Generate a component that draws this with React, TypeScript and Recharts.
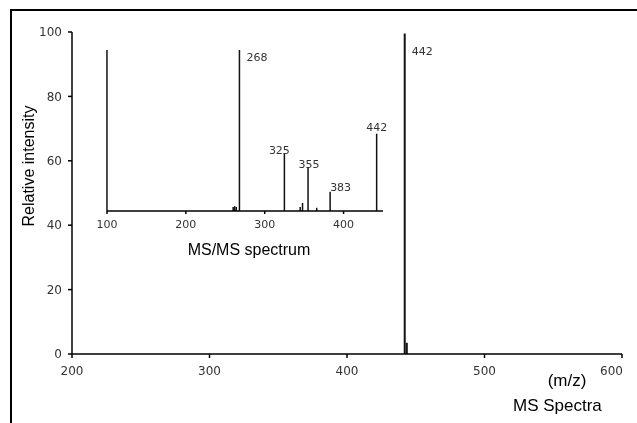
import React from 'react';
import { BarChart, Bar, XAxis, YAxis, LabelList } from 'recharts';

// full MS scan
const msMz = [442, 443.5];
const msIntensity = [99.5, 3.5];
const msLabeled = [442];
const msTicksX = [200, 300, 400, 500, 600];
const msTicksY = [0, 20, 40, 60, 80, 100];

// MS/MS fragments (inset)
const msmsMz = [100, 260, 262, 264, 268, 325, 345, 348, 355, 366, 383, 442];
const msmsIntensity = [100, 2.5, 3, 2.5, 100, 36, 2.5, 5, 27, 2, 12, 48];
const msmsLabeled = [268, 325, 355, 383, 442];
const msmsTicksX = [100, 200, 300, 400];

const msData = msMz.map((mz, i) => ({
  mz,
  intensity: msIntensity[i],
  label: msLabeled.includes(mz) ? String(mz) : '',
}));

const msmsData = msmsMz.map((mz, i) => ({
  mz,
  intensity: msmsIntensity[i],
  label: msmsLabeled.includes(mz) ? String(mz) : '',
}));

// where each peak label sits relative to the top of its stick: [dx, dy, anchor]
const msLabelPlace: Record<string, [number, number, string]> = {
  '442': [7, 21, 'start'],
};
const msmsLabelPlace: Record<string, [number, number, string]> = {
  '268': [7, 11, 'start'],
  '325': [-5, 1, 'middle'],
  '355': [1, 0, 'middle'],
  '383': [0, -1, 'start'],
  '442': [0, -3, 'middle'],
};

const tickFont = { fontFamily: 'DejaVu Sans', fill: '#333' };
const labelFont: React.CSSProperties = {
  position: 'absolute',
  fontFamily: '"Liberation Sans", Arial, sans-serif',
  fontSize: 16,
  lineHeight: 1,
  color: '#000',
  whiteSpace: 'nowrap',
};

const peakLabel = (place: Record<string, [number, number, string]>) => (props: any) => {
  const { x, y, width, value } = props;
  if (!value) return null;
  const [dx, dy, anchor] = place[value] || [0, -3, 'middle'];
  return (
    <text
      x={Number(x) + Number(width) / 2 + dx}
      y={Number(y) + dy}
      textAnchor={anchor as any}
      fontSize={11}
      {...tickFont}
    >
      {value}
    </text>
  );
};

// last tick sits against the right edge, so pin its right end instead of centring
const MsXTick = (props: any) => {
  const { x, y, payload } = props;
  const last = payload.value === msTicksX[msTicksX.length - 1];
  return (
    <text
      x={last ? x + 6 : x}
      y={y}
      dy="0.71em"
      textAnchor={last ? 'end' : 'middle'}
      fontSize={12}
      {...tickFont}
    >
      {payload.value}
    </text>
  );
};

export default function App() {
  return (
    <div style={{ position: 'relative', width: 621, height: 407 }}>
      {/* frame, runs off the page on the right and bottom */}
      <div
        style={{
          position: 'fixed',
          left: 10,
          top: 9,
          width: 700,
          height: 500,
          borderTop: '2px solid #000',
          borderLeft: '2px solid #000',
          pointerEvents: 'none',
        }}
      />

      {/* MS spectrum */}
      <div style={{ position: 'absolute', left: 0, top: 0 }}>
        <BarChart
          width={621}
          height={407}
          data={msData}
          margin={{ top: 24, right: 7, left: 19, bottom: 31 }}
        >
          <XAxis
            type="number"
            dataKey="mz"
            domain={[200, 600]}
            ticks={msTicksX}
            height={30}
            tickSize={4}
            tickMargin={8}
            stroke="#000"
            strokeWidth={1.5}
            tick={<MsXTick />}
          />
          <YAxis
            type="number"
            domain={[0, 100]}
            ticks={msTicksY}
            width={45}
            tickSize={4}
            tickMargin={6}
            stroke="#000"
            strokeWidth={1.5}
            tick={{ ...tickFont, fontSize: 12 }}
          />
          <Bar dataKey="intensity" fill="#111" barSize={2} isAnimationActive={false}>
            <LabelList dataKey="label" content={peakLabel(msLabelPlace)} />
          </Bar>
        </BarChart>
      </div>

      {/* MS/MS inset */}
      <div style={{ position: 'absolute', left: 60, top: 30, width: 340, height: 210 }}>
        <BarChart
          width={340}
          height={210}
          data={msmsData}
          margin={{ top: 12, right: 25, left: 39, bottom: 12 }}
        >
          <XAxis
            type="number"
            dataKey="mz"
            domain={[100, 450]}
            ticks={msmsTicksX}
            height={25}
            tickSize={3}
            tickMargin={6}
            stroke="#000"
            strokeWidth={1.5}
            tick={{ ...tickFont, fontSize: 11 }}
          />
          <YAxis type="number" domain={[0, 100]} hide />
          <Bar dataKey="intensity" fill="#111" barSize={1.5} isAnimationActive={false}>
            <LabelList dataKey="label" content={peakLabel(msmsLabelPlace)} />
          </Bar>
        </BarChart>
      </div>

      <div
        style={{
          ...labelFont,
          left: 21,
          top: 158,
          transform: 'translate(-50%, -50%) rotate(-90deg)',
        }}
      >
        Relative intensity
      </div>
      <div style={{ ...labelFont, left: 241, top: 242, transform: 'translate(-50%, -50%)' }}>
        MS/MS spectrum
      </div>
      <div
        style={{ ...labelFont, fontSize: 17, left: 559, top: 372, transform: 'translate(-50%, -50%)' }}
      >
        (m/z)
      </div>
      <div style={{ ...labelFont, fontSize: 17, left: 505, top: 397, transform: 'translateY(-50%)' }}>
        MS Spectra
      </div>
    </div>
  );
}
